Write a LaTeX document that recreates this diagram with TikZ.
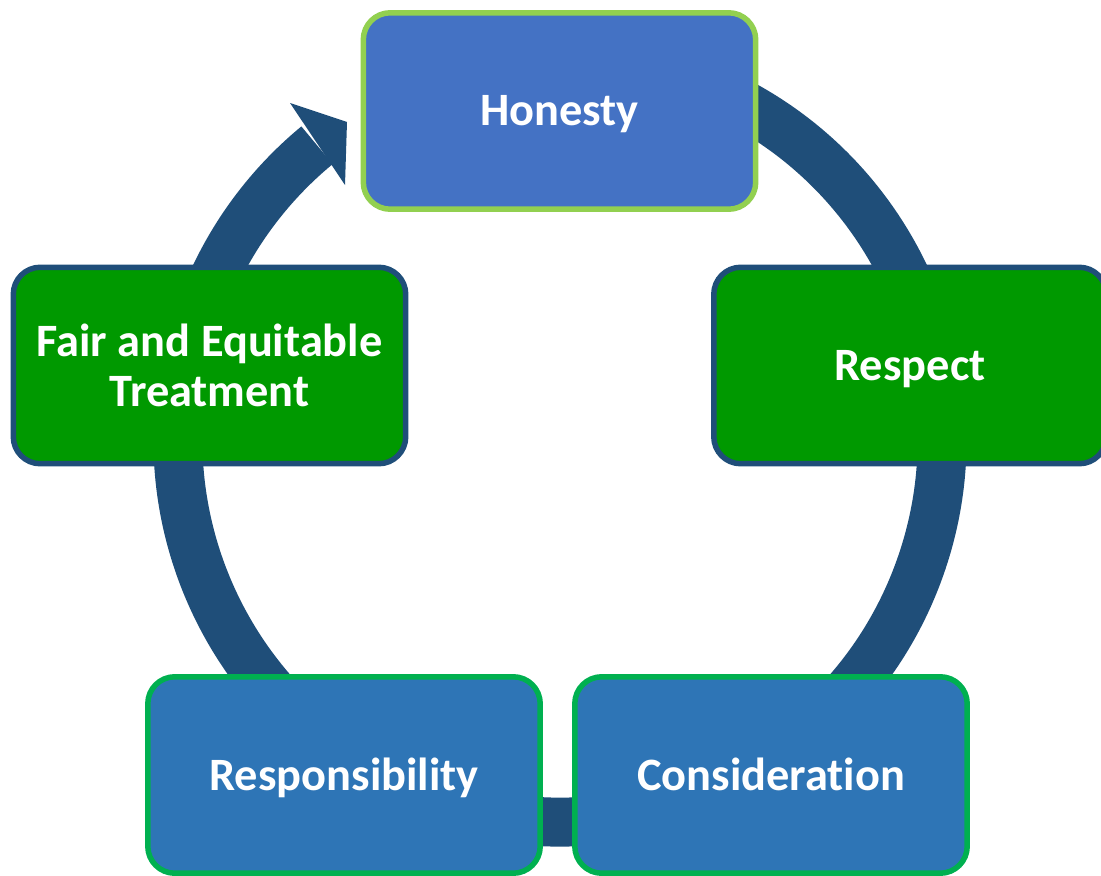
\documentclass[tikz,border=0pt]{standalone}
\usepackage{fontspec}
\setmainfont{Carlito}[Ligatures=NoCommon]
\definecolor{ringblue}{HTML}{1F4E79}
\definecolor{honfill}{HTML}{4472C4}
\definecolor{honedge}{HTML}{92D050}
\definecolor{grfill}{HTML}{009900}
\definecolor{btfill}{HTML}{2E75B6}
\definecolor{btedge}{HTML}{00B050}
\begin{document}
\begin{tikzpicture}[x=0.02cm,y=-0.02cm,
  valbase/.style={rectangle, rounded corners=0.54cm, line width=0.11cm,
    minimum width=7.85cm, minimum height=3.93cm, inner sep=0pt,
    text=white, font=\bfseries\fontsize{26.4}{28.3}\selectfont},
  valbox/.style={valbase, text height=0.6cm, text depth=0pt},
  topbox/.style={valbox, fill=honfill, draw=honedge},
  greenbox/.style={valbox, fill=grfill, draw=ringblue},
  greentwo/.style={valbase, align=center, fill=grfill, draw=ringblue},
  bluebox/.style={valbox, fill=btfill, draw=btedge}]
\useasboundingbox (0,0) rectangle (1101,875);
\coordinate (c) at (560,440);
% ring with arrow
\draw[ringblue, line width=0.98cm] (c) ++(-70:382) arc[start angle=-70, end angle=230.5, radius=382];
\coordinate (h1) at (290,103);
\coordinate (h2) at (347,122);
\coordinate (h3) at (345,185);
\fill[ringblue] (h1) -- (h2) -- (h3) -- cycle;
% boxes
\node[topbox] (hon) at (559.5,111) {Honesty};
\node[greentwo] (fair) at (209.5,365.5) {Fair and Equitable\\Treatment};
\node[greenbox] (resp) at (910,365.5) {Respect};
\node[bluebox] (rsp) at (344,775) {Responsibility};
\node[bluebox] (cons) at (771,775) {Consideration};
\end{tikzpicture}
\end{document}
